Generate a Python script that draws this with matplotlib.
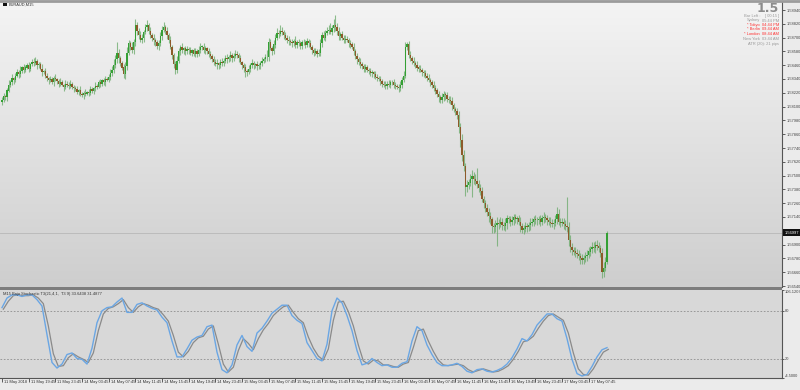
import numpy as np
import matplotlib
matplotlib.use("Agg")
import matplotlib.pyplot as plt
from matplotlib import font_manager as fm
from matplotlib.colors import LinearSegmentedColormap
from matplotlib.patches import Rectangle
from matplotlib.lines import Line2D
import matplotlib.transforms as mtransforms

# ---------------- data ----------------
symbol = "EURAUD,M15"
first_open = 1.5814
close = [
    1.5816,1.5819,1.5818,1.5824,1.5829,1.5831,1.5835,1.5833,1.5837,1.5840,1.5838,1.5841,1.5844,1.5842,1.5844,1.5846,1.5843,1.5847,1.5849,1.5848,
    1.5850,1.5846,1.5847,1.5843,1.5840,1.5841,1.5837,1.5835,1.5833,1.5834,1.5831,1.5835,1.5834,1.5832,1.5830,1.5831,1.5829,1.5827,1.5830,1.5829,
    1.5828,1.5830,1.5827,1.5826,1.5825,1.5823,1.5824,1.5821,1.5820,1.5822,1.5821,1.5823,1.5822,1.5825,1.5824,1.5826,1.5828,1.5827,1.5831,1.5830,
    1.5833,1.5831,1.5834,1.5833,1.5836,1.5839,1.5842,1.5846,1.5851,1.5857,1.5852,1.5848,1.5844,1.5838,1.5845,1.5857,1.5865,1.5862,1.5859,1.5866,
    1.5881,1.5876,1.5872,1.5868,1.5870,1.5875,1.5879,1.5881,1.5876,1.5872,1.5870,1.5868,1.5866,1.5863,1.5865,1.5871,1.5877,1.5879,1.5876,1.5872,
    1.5868,1.5862,1.5855,1.5847,1.5842,1.5850,1.5858,1.5862,1.5859,1.5861,1.5858,1.5860,1.5859,1.5857,1.5859,1.5856,1.5858,1.5856,1.5859,1.5862,
    1.5862,1.5859,1.5861,1.5858,1.5856,1.5854,1.5851,1.5849,1.5847,1.5848,1.5846,1.5849,1.5848,1.5850,1.5852,1.5851,1.5853,1.5855,1.5852,1.5854,
    1.5856,1.5855,1.5852,1.5849,1.5846,1.5844,1.5841,1.5840,1.5843,1.5846,1.5848,1.5846,1.5847,1.5845,1.5846,1.5848,1.5850,1.5851,1.5853,1.5853,
    1.5866,1.5861,1.5858,1.5864,1.5870,1.5874,1.5873,1.5876,1.5875,1.5872,1.5870,1.5868,1.5867,1.5866,1.5865,1.5867,1.5864,1.5866,1.5865,1.5863,
    1.5866,1.5866,1.5864,1.5867,1.5865,1.5862,1.5859,1.5857,1.5858,1.5856,1.5857,1.5865,1.5872,1.5870,1.5874,1.5876,1.5877,1.5875,1.5878,1.5881,
    1.5879,1.5876,1.5871,1.5873,1.5870,1.5868,1.5869,1.5868,1.5865,1.5864,1.5862,1.5858,1.5854,1.5851,1.5849,1.5847,1.5845,1.5843,1.5844,1.5842,
    1.5841,1.5839,1.5840,1.5838,1.5836,1.5835,1.5834,1.5832,1.5830,1.5829,1.5828,1.5830,1.5829,1.5831,1.5831,1.5829,1.5828,1.5827,1.5826,1.5829,
    1.5833,1.5837,1.5862,1.5864,1.5855,1.5852,1.5850,1.5848,1.5846,1.5844,1.5843,1.5842,1.5840,1.5839,1.5837,1.5835,1.5833,1.5831,1.5829,1.5826,
    1.5824,1.5821,1.5818,1.5816,1.5818,1.5821,1.5820,1.5817,1.5816,1.5815,1.5811,1.5808,1.5806,1.5803,1.5792,1.5781,1.5768,1.5758,1.5740,1.5742,
    1.5744,1.5747,1.5750,1.5747,1.5745,1.5743,1.5739,1.5737,1.5730,1.5726,1.5722,1.5718,1.5715,1.5712,1.5706,1.5705,1.5707,1.5709,1.5708,1.5710,
    1.5707,1.5706,1.5709,1.5713,1.5712,1.5710,1.5711,1.5714,1.5712,1.5713,1.5710,1.5706,1.5703,1.5704,1.5706,1.5705,1.5707,1.5709,1.5710,1.5712,
    1.5711,1.5711,1.5712,1.5710,1.5713,1.5714,1.5713,1.5711,1.5710,1.5709,1.5708,1.5709,1.5712,1.5717,1.5710,1.5709,1.5710,1.5708,1.5706,1.5705,
    1.5694,1.5688,1.5685,1.5684,1.5683,1.5682,1.5680,1.5678,1.5677,1.5678,1.5680,1.5681,1.5684,1.5686,1.5688,1.5687,1.5690,1.5689,1.5687,1.5683,
    1.5666,1.5670,1.5675,1.56997,
]
upper_wick_pips = [
    2,3,1,2,4,2,3,1,2,3,2,4,1,3,2,2,3,1,2,3,
    3,1,2,2,4,1,3,2,1,3,2,2,3,1,2,4,2,1,3,2,
    2,3,1,2,2,3,1,4,2,2,3,1,2,3,2,1,3,2,2,3,
    1,2,3,2,2,4,3,5,4,9,3,2,2,3,4,5,3,2,4,3,
    5,3,2,4,3,2,3,4,2,3,2,3,2,2,3,4,3,5,2,3,
    2,3,2,2,3,4,3,2,3,1,2,3,2,3,1,2,3,2,4,3,
    2,3,2,1,3,2,2,3,2,3,1,2,3,2,3,4,2,3,2,3,
    3,2,2,3,1,2,3,2,3,2,3,2,1,3,2,2,3,2,3,6,
    4,3,2,4,3,4,3,5,3,2,3,2,3,2,3,2,4,2,3,2,
    2,3,2,3,2,3,2,2,3,2,3,4,3,4,3,3,4,6,3,5,
    9,4,3,2,3,2,3,2,2,3,2,3,2,3,2,3,2,2,3,2,
    2,3,2,1,3,2,2,3,2,2,3,2,3,2,2,3,2,2,3,3,
    3,4,4,2,3,3,2,3,2,4,2,3,2,2,3,2,3,2,2,3,
    3,2,3,2,4,3,2,3,2,3,3,2,2,3,3,4,5,4,3,4,
    3,4,5,3,4,12,3,4,3,2,3,3,4,3,2,3,4,5,3,4,
    3,3,4,3,2,3,4,3,3,2,3,4,3,3,4,3,3,4,3,3,
    4,3,3,4,3,4,3,3,3,4,3,3,4,6,4,3,3,3,3,25,
    5,4,3,3,4,3,3,3,4,3,4,4,4,3,4,4,3,4,3,3,4,5,4,2,
]
lower_wick_pips = [
    3,2,2,3,1,2,2,3,2,1,3,2,2,3,2,1,3,2,2,3,
    2,3,2,1,3,2,2,3,3,2,1,3,2,2,3,2,1,3,2,2,
    3,2,2,3,1,2,3,2,2,3,2,1,3,2,2,3,2,2,1,3,
    2,2,3,1,2,3,2,3,2,3,4,3,2,3,4,3,2,3,2,3,
    3,4,3,2,3,4,2,3,3,2,3,4,3,3,4,2,3,2,3,3,
    3,2,4,3,4,3,2,3,2,3,3,2,3,2,3,2,3,3,2,2,
    3,2,3,2,3,3,2,3,2,4,3,2,3,3,2,3,2,3,3,2,
    2,3,3,2,3,4,5,3,2,3,2,3,2,3,2,3,3,2,2,3,
    3,2,3,2,3,2,3,2,3,3,2,3,3,2,3,2,3,3,2,3,
    3,2,3,2,3,2,3,3,2,3,2,3,3,2,3,2,3,2,3,3,
    3,4,3,3,2,3,3,2,3,3,2,3,3,4,3,3,2,3,3,2,
    3,2,3,3,2,3,2,3,3,2,3,3,2,3,2,3,3,2,3,2,
    3,2,2,3,3,2,3,3,2,3,3,2,3,3,2,3,2,3,3,2,
    3,3,4,3,3,3,4,3,3,3,4,3,3,4,5,6,5,4,8,4,
    4,3,16,4,3,4,3,4,3,4,4,3,5,4,6,5,4,18,4,3,
    4,3,4,5,3,4,3,4,3,4,3,5,3,4,3,4,3,4,3,4,
    3,4,3,4,3,4,3,4,3,4,3,4,3,4,3,4,3,4,3,4,
    5,4,4,3,4,4,3,5,4,4,3,4,3,4,3,3,4,4,3,4,5,4,3,2,
]
last_price = 1.56997
price_ticks = [1.58940, 1.58820, 1.58700, 1.58580, 1.58460, 1.58340, 1.58220,
               1.58100, 1.57980, 1.57860, 1.57740, 1.57620, 1.57500, 1.57380,
               1.57260, 1.57140, 1.56900, 1.56780, 1.56660, 1.56540]

time_tick_bars = [0, 16, 32, 48, 64, 80, 96, 112, 128, 144, 160, 176, 192,
                  208, 224, 240, 256, 272, 288, 304, 320, 336, 352]
time_tick_labels = ["11 May 2018", "11 May 19:45", "11 May 23:45", "14 May 03:45",
                    "14 May 07:45", "14 May 11:45", "14 May 15:45", "14 May 19:45",
                    "14 May 23:45", "15 May 03:45", "15 May 07:45", "15 May 11:45",
                    "15 May 15:45", "15 May 19:45", "15 May 23:45", "16 May 03:45",
                    "16 May 07:45", "16 May 11:45", "16 May 15:45", "16 May 19:45",
                    "16 May 23:45", "17 May 03:45", "17 May 07:45"]

stoch_bars = list(range(0, 364, 3))
stoch_main = [84,96,100,100,98,100,100,94,86,50,15,8,13,25,27,20,19,13,33,65,
              80,84,85,91,96,78,78,88,90,86,83,81,72,65,42,22,22,32,43,47,
              49,60,62,28,6,2,12,37,49,35,29,52,58,67,77,82,87,87,74,68,
              64,40,30,20,17,38,80,96,90,74,55,30,12,14,20,15,11,12,9,9,
              14,16,42,60,55,37,25,15,11,11,12,14,10,4,2,6,7,4,3,5,
              8,13,21,32,45,42,50,62,69,76,76,70,67,45,19,1,-2,0,10,22,
              31,33.6438]
stoch_signal = [82,92,99,100,99,99,100,96,89,61,26,10,11,21,26,22,19,15,27,55,
                76,83,85,89,94,84,78,85,89,87,84,82,75,67,49,28,22,29,40,46,
                48,57,61,38,13,3,9,30,45,39,31,45,56,64,74,80,85,87,78,70,
                65,47,33,23,18,32,68,91,92,79,61,37,17,13,18,17,12,12,10,9,
                13,15,34,55,57,42,29,18,12,11,12,13,11,6,3,5,7,5,3,4,
                7,11,19,29,41,43,48,58,67,74,76,72,68,52,27,7,0,-1,7,18,
                28,31.4877]
stoch_levels = [80, 20]
stoch_range = [-4.5, 106.1207]
stoch_title = "M15 Bajo Stochastic T3(21,4,1,  T3 9) 33.6438 31.4877"

info_rows = [("Bar Left :", "[ 00:15 ]", "#9a9a9a"),
             ("Sydney", "05:44 PM", "#9a9a9a"),
             ("* Tokyo", "04:44 PM", "#ff3333"),
             ("* Berlin", "09:44 AM", "#ff3333"),
             ("* London", "08:44 AM", "#ff3333"),
             ("New York", "03:44 AM", "#9a9a9a")]
atr_text = "ATR (20): 21 pips"
spread_text = "1.5"

# ---------------- fonts ----------------
_names = {f.name for f in fm.fontManager.ttflist}
if "Liberation Sans Narrow" in _names:
    SMALL_FONT = "Liberation Sans Narrow"
    FS = 3.4
else:
    SMALL_FONT = "Liberation Sans"
    FS = 2.9
plt.rcParams["font.family"] = [SMALL_FONT, "DejaVu Sans"]

# ---------------- layout helpers ----------------
W, H = 800, 390
BAR_PX = 26.667 / 16.0
X0_PX = 2.0


def fx(x):
    return x / W


def fy(y):
    return 1 - y / H


def ax_box(x0, y0, x1, y1):
    return [x0 / W, 1 - y1 / H, (x1 - x0) / W, (y1 - y0) / H]


def price_at(y):
    return 1.5894 - (y - 10) / 11500.0


fig = plt.figure(figsize=(8, 3.9), dpi=100, facecolor="#ebebeb")

# main pane
ax = fig.add_axes(ax_box(0, 2, 782, 287))
ax.set_xlim((0 - X0_PX) / BAR_PX, (782 - X0_PX) / BAR_PX)
ax.set_ylim(price_at(287), price_at(2))
cmap = LinearSegmentedColormap.from_list("bg", ["#f4f4f4", "#cecece"])
ax.imshow(np.linspace(0, 1, 256).reshape(-1, 1), extent=[0, 1, 0, 1],
          transform=ax.transAxes, aspect="auto", cmap=cmap, zorder=0)

closes = np.array(close)
opens = np.concatenate([[first_open], closes[:-1]])
uw = np.array(upper_wick_pips) * 0.0001
lw = np.array(lower_wick_pips) * 0.0001
highs = np.maximum(opens, closes) + uw
lows = np.minimum(opens, closes) - lw
idx = np.arange(len(closes))

ax.axhline(last_price, color="#bcbcbc", lw=0.7, zorder=1)
ax.vlines(idx, lows, highs, color="#6aaa6a", lw=0.8, alpha=0.75, zorder=2)
up = closes >= opens
body_h = np.maximum(np.abs(closes - opens), 0.00004)
ax.bar(idx[up], body_h[up], bottom=np.minimum(opens, closes)[up], width=0.75,
       color="#34a034", edgecolor="none", zorder=3)
ax.bar(idx[~up], body_h[~up], bottom=np.minimum(opens, closes)[~up], width=0.75,
       color="#8d5a2a", edgecolor="none", zorder=3)

ax.yaxis.tick_right()
ax.set_yticks(price_ticks)
ax.set_yticklabels([f"{p:.5f}" for p in price_ticks])
ax.tick_params(axis="y", direction="out", length=2.5, width=0.6, colors="#444444",
               labelsize=FS, pad=1.0)
ax.set_xticks([])
for s in ["top", "left", "bottom"]:
    ax.spines[s].set_visible(False)
ax.spines["right"].set_color("#555555")
ax.spines["right"].set_linewidth(0.8)

# current price label
fig.patches.append(Rectangle((fx(783), fy(236.5)), 17 / W, 7 / H, transform=fig.transFigure,
                             facecolor="#111111", edgecolor="none", zorder=5))
fig.text(fx(785), fy(233), f"{last_price:.5f}", color="white", fontsize=FS,
         ha="left", va="center", zorder=6)

# header top-left
fig.lines.append(Line2D([0, 1], [fy(1), fy(1)], transform=fig.transFigure,
                        color="#9c9c9c", lw=2.0))
fig.patches.append(Rectangle((fx(3), fy(6)), 4 / W, 3 / H, transform=fig.transFigure,
                             facecolor="#111111", edgecolor="none"))
fig.text(fx(9), fy(4.5), symbol, fontsize=FS, color="#333333", ha="left", va="center")

# info panel
fig.text(fx(779), fy(12.5), spread_text, fontsize=9, fontweight="bold", color="#8c8c8c",
         ha="right", va="baseline", family="DejaVu Sans")
row_y = [16, 20.5, 25, 29.5, 34, 38.5]
for (name, val, col), yy in zip(info_rows, row_y):
    fig.text(fx(760), fy(yy), name, fontsize=FS, color=col, ha="right", va="center")
    fig.text(fx(779), fy(yy), val, fontsize=FS, color=col, ha="right", va="center")
fig.text(fx(779), fy(43.5), atr_text, fontsize=FS, color="#9a9a9a", ha="right", va="center")

# separator
fig.patches.append(Rectangle((0, fy(289.5)), 782 / W, 2.5 / H, transform=fig.transFigure,
                             facecolor="#7d7d7d", edgecolor="none"))

# stochastic pane
ax2 = fig.add_axes(ax_box(0, 290, 782, 378))
ax2.set_facecolor("#d8d8d8")
ax2.set_xlim(ax.get_xlim())
ax2.set_ylim(stoch_range[0], stoch_range[1])
for lv in stoch_levels:
    ax2.axhline(lv, color="#8e8e8e", lw=0.6, ls=(0, (2, 2)), zorder=1)
ax2.plot(np.array(stoch_bars) + 0.8, stoch_signal, color="#8a8a8a", lw=0.9, zorder=2)
ax2.plot(stoch_bars, stoch_main, color="#6aa6e4", lw=1.0, zorder=3)
ax2.yaxis.tick_right()
ax2.set_yticks([stoch_range[1], 80, 20, stoch_range[0]])
ax2.set_yticklabels([f"{stoch_range[1]:.4f}", "80", "20", f"{stoch_range[0]:.4f}"])
ax2.tick_params(axis="y", direction="out", length=1.5, width=0.6, colors="#444444",
                labelsize=2.9, pad=0.4)
for lab in ax2.get_yticklabels():
    lab.set_va("center")
ax2.get_yticklabels()[0].set_va("top")
ax2.get_yticklabels()[-1].set_va("bottom")
for s in ["top", "left"]:
    ax2.spines[s].set_visible(False)
ax2.spines["right"].set_color("#555555")
ax2.spines["right"].set_linewidth(0.8)
ax2.spines["bottom"].set_color("#555555")
ax2.spines["bottom"].set_linewidth(0.8)
ax2.set_xticks(time_tick_bars)
ax2.set_xticklabels([])
ax2.tick_params(axis="x", direction="out", length=3, width=0.6, colors="#444444")
fig.text(fx(3), fy(292), stoch_title, fontsize=FS, color="#333333", ha="left", va="top")

offset = mtransforms.ScaledTranslation(2 / 100, -2 / 100, fig.dpi_scale_trans)
for b, lab in zip(time_tick_bars, time_tick_labels):
    ax2.text(b, 0, lab, transform=ax2.get_xaxis_transform() + offset,
             fontsize=FS, color="#333333", ha="left", va="top")

fig.savefig("out.png", dpi=100, facecolor=fig.get_facecolor())
